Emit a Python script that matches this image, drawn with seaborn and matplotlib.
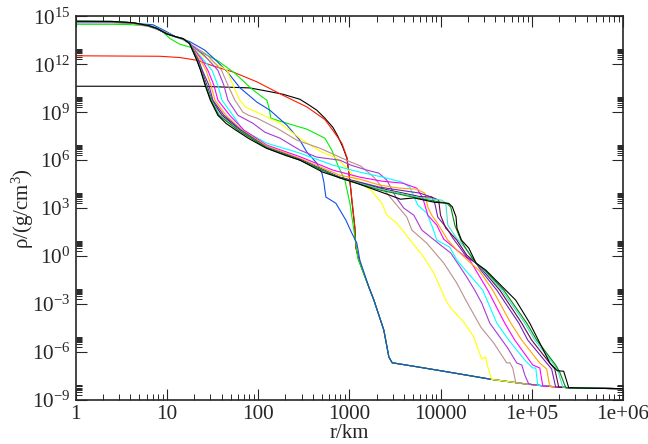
import matplotlib
matplotlib.use("Agg")
import numpy as np
import matplotlib.pyplot as plt
from matplotlib.ticker import FixedLocator, NullFormatter
import seaborn as sns

# everything as log10(r/km), log10(rho)

# outer progenitor profile, every curve ends on it
tail_r = [3.47, 3.75, 4.003, 4.25, 4.559, 4.912, 5.15, 5.405, 5.7, 6.0]
tail_rho = [-6.67, -6.93, -7.17, -7.41, -7.71, -7.98, -8.13, -8.23, -8.27, -8.29]

# steep part shared by the four earliest curves
steep_r = [3.215, 3.27, 3.379, 3.434]
steep_rho = [-1.94, -2.75, -4.63, -6.31]

# radii of the core part, same for the later curves
core_r = [0, 0.4, 0.63, 0.8, 0.89, 1.0, 1.1, 1.18, 1.25]

r_black0 = [0, 1.364, 1.911, 2.163, 2.273, 2.459, 2.546, 2.645, 2.733, 2.82, 2.875, 2.93, 2.974, 2.996, 3.018, 3.028, 3.061, 3.072, 3.105]
rho_black0 = [10.625, 10.625, 10.52, 10.25, 10.125, 9.81, 9.5, 9.125, 8.625, 8.06, 7.5, 6.81, 6.13, 5.19, 4.13, 3.5, 1.81, 0.56, -0.25]

r_red = [0, 0.925, 1.145, 1.33, 1.506, 1.725, 1.988, 2.273, 2.536, 2.733, 2.82, 2.919, 2.974, 2.996, 3.018, 3.061, 3.072, 3.105]
rho_red = [12.53, 12.5, 12.42, 12.25, 11.9, 11.52, 10.9, 10.06, 9.33, 8.54, 7.87, 7.06, 6.19, 5.19, 4.13, 1.81, 0.56, -0.25]

r_green = [0, 0.4, 0.6, 0.849, 0.958, 1.035, 1.145, 1.276, 1.418, 1.55, 1.747, 1.911, 2.021, 2.097, 2.119, 2.141, 2.24, 2.536, 2.733, 2.809, 2.875, 2.952, 3.007, 3.072, 3.094]
rho_green = [14.5, 14.5, 14.48, 14.37, 14.02, 13.61, 13.25, 13.04, 12.63, 12.25, 11.44, 10.56, 10.06, 9.75, 9.31, 8.63, 8.44, 7.94, 7.375, 6.63, 5.69, 4.75, 3.31, 0.81, -0.13]

r_blue = [0, 0.4, 0.6, 0.85, 0.958, 1.09, 1.254, 1.418, 1.56, 1.659, 1.802, 1.988, 2.13, 2.316, 2.459, 2.536, 2.645, 2.7, 2.722, 2.733, 2.744, 2.853, 2.963, 3.028, 3.083, 3.116]
rho_blue = [14.6, 14.6, 14.58, 14.47, 14.16, 13.75, 13.41, 12.88, 12.13, 11.56, 10.53, 9.63, 9.13, 8.19, 7.25, 6.5, 5.81, 5.19, 4.63, 4.13, 3.69, 3.31, 2.25, 1.44, 0.81, -0.25]

r_yellow = core_r + [1.4, 1.55, 1.66, 1.725, 1.8, 1.87, 1.988, 2.24, 2.459, 2.678, 2.864, 2.974, 3.083, 3.236, 3.357, 3.412, 3.521, 3.686, 3.817, 3.927, 4.058, 4.113, 4.255, 4.365, 4.452, 4.496, 4.507, 4.559]
rho_yellow = [14.62, 14.61, 14.54, 14.36, 14.2, 13.95, 13.7, 13.55, 13.3, 12.5, 12.0, 11.63, 10.69, 9.75, 9.3, 9.0, 8.31, 7.38, 6.56, 6.13, 5.5, 4.75, 4.13, 3.31, 2.56, 2.06, 0.88, -0.06, -1.06, -2.75, -3.25, -4.13, -5.06, -6.44, -6.31, -6.69, -7.71]

r_tan = core_r + [1.44, 1.6, 1.67, 1.747, 1.835, 1.9, 1.988, 2.207, 2.426, 2.678, 2.897, 3.018, 3.127, 3.27, 3.456, 3.631, 3.686, 3.85, 4.036, 4.179, 4.277, 4.442, 4.584, 4.727, 4.759, 4.792, 4.825]
rho_tan = [14.63, 14.62, 14.55, 14.37, 14.2, 13.94, 13.7, 13.55, 13.3, 12.6, 11.63, 10.69, 9.75, 9.0, 8.8, 8.63, 8.0, 7.25, 6.75, 6.19, 5.88, 5.63, 4.94, 3.63, 2.44, 1.63, 0.81, -0.44, -1.69, -2.75, -4.44, -5.44, -6.69, -6.66, -7.0, -7.92]

r_violet = core_r + [1.42, 1.56, 1.626, 1.67, 1.78, 1.944, 2.075, 2.24, 2.459, 2.645, 2.897, 3.018, 3.193, 3.324, 3.412, 3.511, 3.598, 3.708, 3.795, 3.959, 4.113, 4.288, 4.375, 4.452, 4.54, 4.737, 4.836, 4.891, 4.924, 4.967]
rho_violet = [14.64, 14.63, 14.56, 14.38, 14.2, 13.93, 13.7, 13.55, 13.3, 12.5, 11.63, 10.69, 9.75, 8.81, 8.31, 7.75, 7.38, 6.63, 6.19, 6.0, 5.69, 5.38, 5.19, 4.75, 3.69, 3.0, 2.56, 1.63, 0.88, 0.19, -1.31, -2.13, -2.94, -4.19, -5.75, -6.69, -6.81, -7.44, -8.0]

r_cyan = core_r + [1.4, 1.495, 1.56, 1.605, 1.725, 1.835, 2.097, 2.459, 2.82, 3.116, 3.368, 3.576, 3.664, 3.751, 3.85, 3.916, 3.959, 4.102, 4.179, 4.463, 4.617, 4.748, 4.924, 5.011, 5.044, 5.066]
rho_cyan = [14.65, 14.64, 14.57, 14.39, 14.21, 13.92, 13.7, 13.57, 13.3, 12.3, 11.63, 10.69, 9.75, 8.81, 7.88, 7.06, 6.44, 5.69, 5.25, 4.94, 4.63, 4.31, 3.19, 2.69, 1.75, 1.0, 0.56, -0.25, -2.13, -4.19, -5.25, -6.5, -7.0, -7.0, -8.08]

r_magenta = core_r + [1.39, 1.45, 1.517, 1.561, 1.69, 1.846, 2.097, 2.459, 2.82, 3.116, 3.357, 3.587, 3.74, 3.806, 3.861, 3.959, 4.036, 4.179, 4.321, 4.518, 4.704, 4.814, 5.011, 5.088, 5.121]
rho_magenta = [14.66, 14.65, 14.57, 14.4, 14.22, 13.91, 13.71, 13.58, 13.3, 12.25, 11.63, 10.69, 9.75, 8.81, 7.88, 6.94, 6.22, 5.38, 4.94, 4.69, 4.56, 4.25, 3.63, 2.56, 1.94, 1.06, 0.38, -0.25, -2.13, -4.19, -5.25, -6.81, -7.0, -8.12]

r_orange = core_r + [1.37, 1.43, 1.484, 1.528, 1.648, 1.824, 2.097, 2.459, 2.897, 3.116, 3.335, 3.554, 3.74, 3.828, 3.861, 3.904, 3.959, 4.08, 4.179, 4.32, 4.42, 4.573, 4.77, 4.89, 5.088, 5.164, 5.197]
rho_orange = [14.67, 14.66, 14.58, 14.41, 14.23, 13.91, 13.71, 13.59, 13.3, 12.25, 11.63, 10.69, 9.75, 8.81, 7.88, 6.88, 6.12, 5.06, 4.81, 4.44, 4.25, 4.19, 3.94, 3.06, 2.56, 2.13, 1.0, 0.38, -0.38, -0.875, -2.13, -4.19, -5.25, -6.69, -7.06, -8.15]

r_indigo = core_r + [1.35, 1.39, 1.462, 1.506, 1.626, 1.813, 2.097, 2.459, 2.897, 3.335, 3.774, 3.904, 3.937, 3.97, 4.069, 4.135, 4.288, 4.39, 4.441, 4.617, 4.858, 4.956, 5.164, 5.218, 5.262]
rho_indigo = [14.68, 14.67, 14.59, 14.41, 14.24, 13.9, 13.72, 13.59, 13.3, 12.25, 11.63, 10.69, 9.75, 8.81, 7.88, 6.81, 6.06, 4.94, 4.31, 3.94, 3.69, 3.31, 2.44, 1.75, 1.13, -0.06, -0.44, -0.875, -2.13, -4.19, -5.25, -6.69, -7.06, -8.19]

r_maroon = core_r + [1.34, 1.38, 1.44, 1.495, 1.605, 1.8, 2.097, 2.459, 2.897, 3.335, 3.774, 3.904, 3.98, 4.0, 4.058, 4.179, 4.288, 4.39, 4.463, 4.65, 4.89, 4.999, 5.197, 5.252, 5.296]
rho_maroon = [14.68, 14.67, 14.59, 14.42, 14.24, 13.9, 13.72, 13.6, 13.3, 12.25, 11.63, 10.69, 9.75, 8.81, 7.88, 6.78, 6.03, 4.92, 4.25, 3.72, 3.69, 3.5, 2.56, 1.75, 1.0, 0.06, -0.44, -0.875, -2.13, -4.19, -5.25, -6.69, -7.06, -8.2]

r_turq = core_r + [1.335, 1.375, 1.43, 1.49, 1.583, 1.79, 2.097, 2.459, 2.897, 3.335, 3.774, 4.014, 4.058, 4.08, 4.168, 4.288, 4.39, 4.474, 4.671, 4.924, 5.032, 5.23, 5.285, 5.34]
rho_turq = [14.69, 14.68, 14.6, 14.42, 14.25, 13.9, 13.72, 13.6, 13.3, 12.25, 11.63, 10.69, 9.75, 8.81, 7.88, 6.77, 6.01, 4.9, 4.2, 3.66, 3.5, 3.31, 1.94, 1.19, 0.38, -0.44, -0.875, -2.13, -4.19, -5.25, -6.69, -7.13, -8.2]

r_green4 = core_r + [1.33, 1.372, 1.425, 1.484, 1.57, 1.78, 2.097, 2.46, 2.897, 3.335, 3.774, 4.069, 4.113, 4.157, 4.223, 4.288, 4.387, 4.485, 4.693, 4.945, 5.054, 5.262, 5.306, 5.372]
rho_green4 = [14.69, 14.68, 14.6, 14.42, 14.25, 13.9, 13.72, 13.6, 13.3, 12.25, 11.63, 10.69, 9.75, 8.81, 7.88, 6.76, 6.0, 4.88, 4.13, 3.6, 3.31, 3.06, 1.94, 1.0, 0.38, -0.44, -0.875, -2.13, -4.19, -5.25, -6.81, -7.25, -8.22]

r_black1 = core_r + [1.33, 1.37, 1.42, 1.478, 1.56, 1.65, 1.758, 1.9, 2.09, 2.3, 2.46, 2.71, 3.08, 3.45, 3.56, 3.71, 3.93, 4.09, 4.13, 4.17, 4.18, 4.23, 4.31, 4.39, 4.496, 4.715, 4.824, 4.978, 5.055, 5.2, 5.28, 5.35, 5.405]
rho_black1 = [14.69, 14.68, 14.6, 14.42, 14.25, 13.9, 13.72, 13.6, 13.3, 12.25, 11.63, 10.69, 9.75, 8.81, 8.3, 7.875, 7.35, 6.75, 6.3, 6.0, 5.25, 4.56, 3.8, 3.56, 3.64, 3.37, 3.3, 3.08, 2.46, 1.75, 1.0, 0.5, -0.44, -0.875, -2.13, -2.75, -4.19, -5.06, -6.7, -7.17, -7.2, -8.23]

sns.set_style("ticks")
plt.rcParams['font.family'] = ['Liberation Serif', 'DejaVu Serif']
plt.rcParams['mathtext.fontset'] = 'custom'
plt.rcParams['mathtext.rm'] = 'Liberation Serif'
plt.rcParams['mathtext.it'] = 'Liberation Serif:italic'

fig = plt.figure(figsize=(6.48, 4.44), dpi=100)
ax = fig.add_axes([75.5 / 648, 44 / 444, 547.5 / 648, 383.7 / 444])

# early curves get the common steep part before the tail
curves = [
    (r_black0 + steep_r, rho_black0 + steep_rho, "black"),
    (r_red + steep_r, rho_red + steep_rho, "#ff1a00"),
    (r_green + steep_r, rho_green + steep_rho, "#00f000"),
    (r_blue + steep_r, rho_blue + steep_rho, "#1050e8"),
    (r_yellow, rho_yellow, "#ffff00"),
    (r_tan, rho_tan, "#bc8f8f"),
    (r_violet, rho_violet, "#a53bd6"),
    (r_cyan, rho_cyan, "#00ffff"),
    (r_magenta, rho_magenta, "#ff00ff"),
    (r_orange, rho_orange, "#ffa500"),
    (r_indigo, rho_indigo, "#7221bc"),
    (r_maroon, rho_maroon, "#670748"),
    (r_turq, rho_turq, "#40e0d0"),
    (r_green4, rho_green4, "#008b00"),
    (r_black1, rho_black1, "black"),
]

for r, rho, col in curves:
    # add the part of the progenitor tail beyond the last read point
    rest = [i for i, v in enumerate(tail_r) if v > r[-1]]
    xs = np.array(r + [tail_r[i] for i in rest])
    ys = np.array(rho + [tail_rho[i] for i in rest])
    sns.lineplot(x=10**xs, y=10**ys, color=col, lw=0.8, sort=False, estimator=None, ax=ax)

ax.set_xscale('log')
ax.set_yscale('log')
ax.set_xlim(1, 1e6)
ax.set_ylim(1e-9, 1e15)

x_major = [1, 10, 100, 1000, 10000, 1e5, 1e6]
x_labels = ["1", "10", "100", "1000", "10000", "1e+05", "1e+06"]
ax.set_xticks(x_major)
ax.set_xticklabels(x_labels)
ax.xaxis.set_minor_locator(FixedLocator([m * 10.0**k for k in range(6) for m in range(2, 10)]))
ax.xaxis.set_minor_formatter(NullFormatter())

y_exp = [-9, -6, -3, 0, 3, 6, 9, 12, 15]
ax.set_yticks([10.0**k for k in y_exp])
ax.set_yticklabels([r"$\mathregular{10^{%d}}$" % k for k in y_exp])
ax.yaxis.set_minor_locator(FixedLocator([m * 10.0**k for k in y_exp[:-1] for m in range(2, 10)]))
ax.yaxis.set_minor_formatter(NullFormatter())

ax.tick_params(which='major', direction='in', length=8, width=0.8, top=True, right=True, labelsize=15.3, pad=3.5)
ax.tick_params(which='minor', direction='in', length=4, width=0.7, top=True, right=True)
for sp in ax.spines.values():
    sp.set_linewidth(1.2)

ax.set_xlabel("r/km", fontsize=15, labelpad=0)
ax.set_ylabel("ρ/(g/cm$\\mathregular{^3}$)", fontsize=15)
ax.yaxis.set_label_coords(-0.072, 0.5)

fig.savefig("out.png", dpi=100)
